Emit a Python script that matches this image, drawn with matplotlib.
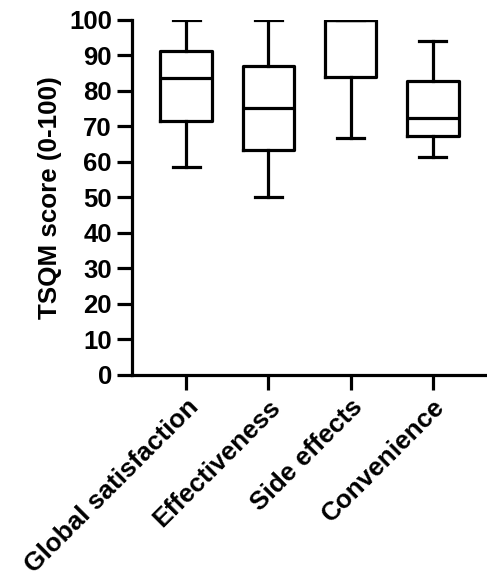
import matplotlib
matplotlib.use("Agg")
import matplotlib.pyplot as plt

plt.rcParams['font.family'] = ['Liberation Sans', 'DejaVu Sans']
plt.rcParams['font.weight'] = 'bold'

categories = ["Global satisfaction", "Effectiveness", "Side effects", "Convenience"]
whisker_low = [58.4, 50.0, 66.7, 61.3]
q1 = [71.6, 63.2, 84.0, 67.3]
median = [83.5, 75.1, 100.0, 72.3]
q3 = [91.3, 87.0, 100.0, 82.8]
whisker_high = [100.0, 100.0, 100.0, 93.9]

stats = []
for i, name in enumerate(categories):
    stats.append({"label": name, "whislo": whisker_low[i], "q1": q1[i], "med": median[i],
                  "q3": q3[i], "whishi": whisker_high[i], "fliers": []})

fig = plt.figure(figsize=(4.87, 5.82), dpi=100)
ax = fig.add_axes([0.271, 0.356, 0.729, 0.61])

lw = 2.3
ax.bxp(stats, positions=[1, 2, 3, 4], widths=0.63, showfliers=False,
       boxprops=dict(color="black", linewidth=lw),
       medianprops=dict(color="black", linewidth=lw),
       whiskerprops=dict(color="black", linewidth=lw),
       capprops=dict(color="black", linewidth=lw),
       capwidths=0.33)

ax.set_xlim(0.34, 4.66)
ax.set_ylim(0, 100)
ax.set_yticks(range(0, 101, 10))
ax.spines["top"].set_visible(False)
ax.spines["right"].set_visible(False)
for s in ["left", "bottom"]:
    ax.spines[s].set_linewidth(lw)
ax.tick_params(axis="both", width=lw, length=10.5, labelsize=18.5, pad=4)
ax.set_xticks([1, 2, 3, 4])
ax.set_xticklabels(categories, rotation=45, ha="right", rotation_mode="anchor", fontsize=18.8)
ax.set_ylabel("TSQM score (0-100)", fontsize=18.7, fontweight="bold", labelpad=5)

fig.savefig("out.png", dpi=100)
